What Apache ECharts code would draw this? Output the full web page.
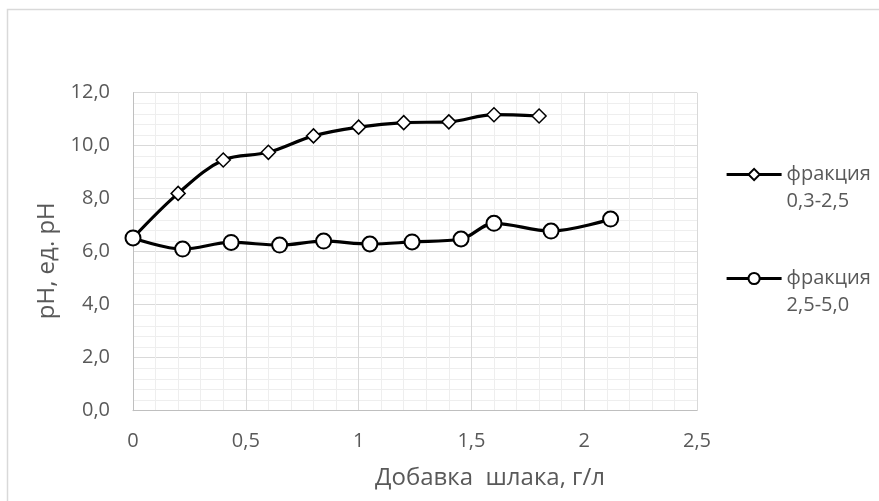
<!DOCTYPE html>
<html>
<head>
<meta charset="utf-8">
<script src="https://cdn.jsdelivr.net/npm/echarts@6/dist/echarts.min.js"></script>
<style>
html,body{margin:0;padding:0;background:#fff;}
#chart{width:879px;height:501px;}
</style>
</head>
<body>
<div id="chart"></div>
<script>
var seriesNames = ['фракция 0,3-2,5', 'фракция 2,5-5,0'];
var xA = [0, 0.2, 0.4, 0.6, 0.8, 1.0, 1.2, 1.4, 1.6, 1.8];
var yA = [6.52, 8.2, 9.46, 9.75, 10.37, 10.7, 10.87, 10.9, 11.17, 11.12];
var xB = [0, 0.22, 0.435, 0.65, 0.845, 1.05, 1.237, 1.454, 1.6, 1.853, 2.117];
var yB = [6.52, 6.1, 6.35, 6.25, 6.4, 6.29, 6.37, 6.48, 7.07, 6.78, 7.23];
var xAxisName = 'Добавка  шлака, г/л';
var yAxisName = 'pH, ед. pH';

function pairs(xs, ys) { return xs.map(function (x, i) { return [x, ys[i]]; }); }

var FONT = "'Open Sans', 'Noto Sans', sans-serif";
var TXT = '#595959';

var chart = echarts.init(document.getElementById('chart'), null, {renderer: 'canvas'});
chart.setOption({
  animation: false,
  backgroundColor: '#ffffff',
  textStyle: {fontFamily: FONT},
  graphic: [{
    type: 'rect', silent: true, z: -1,
    shape: {x: 7.5, y: 9.5, width: 1000, height: 1000},
    style: {fill: 'none', stroke: '#d9d9d9', lineWidth: 1.5}
  }],
  grid: {left: 133, right: 182, top: 92.7, bottom: 90.3, containLabel: false},
  legend: {
    orient: 'vertical',
    left: 725,
    top: 134,
    padding: 0,
    itemWidth: 55,
    itemHeight: 14,
    itemGap: 23,
    data: seriesNames,
    lineStyle: {width: 3.2, color: '#000'},
    formatter: function (name) { return '\n' + name.replace(' ', '\n'); },
    textStyle: {color: TXT, fontSize: 20, fontFamily: FONT, lineHeight: 27}
  },
  xAxis: {
    type: 'value', min: 0, max: 2.5, interval: 0.5,
    name: xAxisName, nameLocation: 'middle', nameGap: 55,
    nameTextStyle: {color: TXT, fontSize: 24, fontFamily: FONT, padding: [0, 0, 0, 150]},
    axisLine: {show: true, lineStyle: {color: '#bfbfbf', width: 1}},
    axisTick: {show: false},
    axisLabel: {color: TXT, fontSize: 20, fontFamily: FONT, margin: 21,
      formatter: function (v) { return String(v).replace('.', ','); }},
    splitLine: {show: true, lineStyle: {color: '#d9d9d9', width: 1}},
    minorTick: {show: false, splitNumber: 5},
    minorSplitLine: {show: true, lineStyle: {color: '#eeeeee', width: 1}}
  },
  yAxis: {
    type: 'value', min: 0, max: 12, interval: 2,
    name: yAxisName, nameLocation: 'middle', nameGap: 69, nameRotate: 90,
    nameTextStyle: {color: TXT, fontSize: 24, fontFamily: FONT, padding: [0, 18, 0, 0]},
    axisLine: {show: true, lineStyle: {color: '#bfbfbf', width: 1}},
    axisTick: {show: false},
    axisLabel: {color: TXT, fontSize: 20, fontFamily: FONT, margin: 23,
      formatter: function (v) { return v.toFixed(1).replace('.', ','); }},
    splitLine: {show: true, lineStyle: {color: '#d9d9d9', width: 1}},
    minorTick: {show: false, splitNumber: 5},
    minorSplitLine: {show: true, lineStyle: {color: '#eeeeee', width: 1}}
  },
  series: [{
    name: seriesNames[0], type: 'line', smooth: 0.35,
    data: pairs(xA, yA),
    symbol: 'diamond', symbolSize: 14, showAllSymbol: true,
    lineStyle: {color: '#000', width: 3.2},
    itemStyle: {color: '#fff', borderColor: '#000', borderWidth: 1.5},
    emphasis: {disabled: true}
  }, {
    name: seriesNames[1], type: 'line', smooth: 0.35,
    data: pairs(xB, yB),
    symbol: 'circle', symbolSize: 15, showAllSymbol: true,
    lineStyle: {color: '#000', width: 3.2},
    itemStyle: {color: '#fff', borderColor: '#000', borderWidth: 2},
    emphasis: {disabled: true}
  }]
});
</script>
</body>
</html>
